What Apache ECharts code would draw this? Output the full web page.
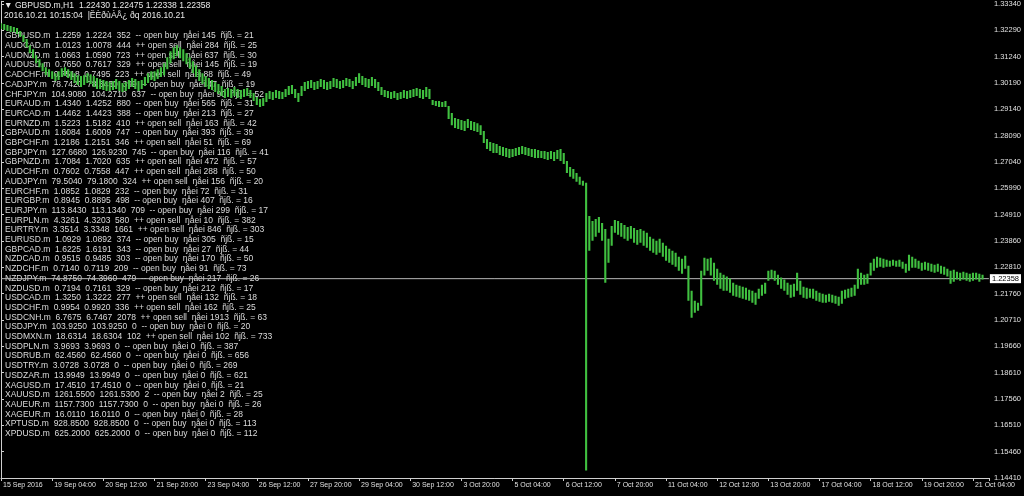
<!DOCTYPE html>
<html><head><meta charset="utf-8">
<script src="https://cdn.jsdelivr.net/npm/echarts@6/dist/echarts.min.js"></script>
<style>html,body{margin:0;padding:0;background:#000;overflow:hidden}#c{width:1024px;height:496px}</style>
</head><body><div id="c"></div>
<script>
// x-axis tick labels (every 16 two-hour bars = 32 h)
const xLabels = ['15 Sep 2016','19 Sep 04:00','20 Sep 12:00','21 Sep 20:00','23 Sep 04:00','26 Sep 12:00','27 Sep 20:00','29 Sep 04:00','30 Sep 12:00','3 Oct 20:00','5 Oct 04:00','6 Oct 12:00','7 Oct 20:00','11 Oct 04:00','12 Oct 12:00','13 Oct 20:00','17 Oct 04:00','18 Oct 12:00','19 Oct 20:00','21 Oct 04:00'];
// y-axis tick labels (bottom to top)
const yLabels = ['1.14410','1.15460','1.16510','1.17560','1.18610','1.19660','1.20710','1.21760','1.22810','1.23860','1.24910','1.25990','1.27040','1.28090','1.29140','1.30190','1.31240','1.32290','1.33340'];
const lastPrice = 1.22358;
// bar highs / lows (GBPUSD, one value per 2 hours, starting 15 Sep 20:00)
const highs = [
1.3254,1.3251,1.3247,1.3243,1.3239,1.3235,1.3223,1.3207,1.3191,1.3167,1.3151,1.3127,1.3111,1.3095,1.3079,1.3071,
1.3063,1.3055,1.3063,1.3075,1.3079,1.3071,1.3063,1.3055,1.3047,1.3044,1.3047,1.3055,1.3051,1.3044,1.3036,1.3032,
1.3028,1.3024,1.3020,1.3024,1.3032,1.3024,1.3016,1.3020,1.3028,1.3036,1.3032,1.3024,1.3028,1.3040,1.3055,1.3063,
1.3063,1.3071,1.3079,1.3095,1.3119,1.3143,1.3159,1.3167,1.3159,1.3151,1.3135,1.3119,1.3103,1.3087,1.3071,1.3055,
1.3044,1.3036,1.3028,1.3020,1.3012,1.3004,1.2992,1.2996,1.2992,1.3000,1.2992,1.2988,1.2992,1.2996,1.2988,1.2976,
1.2960,1.2952,1.2956,1.2976,1.2984,1.2980,1.2988,1.2984,1.2980,1.2992,1.3004,1.3008,1.2992,1.2976,1.3004,1.3020,
1.3024,1.3028,1.3020,1.3024,1.3032,1.3028,1.3020,1.3024,1.3036,1.3032,1.3024,1.3028,1.3036,1.3032,1.3024,1.3040,
1.3055,1.3044,1.3036,1.3032,1.3040,1.3032,1.3020,1.3000,1.2988,1.2984,1.2980,1.2984,1.2976,1.2980,1.2988,1.2984,
1.2988,1.2992,1.2996,1.2992,1.2988,1.3000,1.2992,1.2948,1.2944,1.2944,1.2940,1.2944,1.2924,1.2896,1.2876,1.2872,
1.2868,1.2864,1.2872,1.2864,1.2860,1.2856,1.2848,1.2825,1.2793,1.2781,1.2777,1.2773,1.2765,1.2761,1.2757,1.2753,
1.2753,1.2757,1.2761,1.2765,1.2761,1.2757,1.2753,1.2753,1.2749,1.2745,1.2745,1.2741,1.2745,1.2741,1.2749,1.2753,
1.2737,1.2705,1.2681,1.2673,1.2657,1.2642,1.2626,1.2618,1.2486,1.2466,1.2474,1.2482,1.2458,1.2434,1.2395,1.2446,
1.2470,1.2466,1.2458,1.2450,1.2442,1.2446,1.2438,1.2430,1.2434,1.2427,1.2419,1.2403,1.2395,1.2387,1.2395,1.2379,
1.2367,1.2355,1.2347,1.2339,1.2323,1.2315,1.2327,1.2287,1.2188,1.2148,1.2140,1.2267,1.2319,1.2315,1.2319,1.2299,
1.2275,1.2259,1.2251,1.2244,1.2236,1.2220,1.2212,1.2208,1.2204,1.2200,1.2192,1.2188,1.2180,1.2196,1.2212,1.2220,
1.2267,1.2271,1.2267,1.2251,1.2240,1.2232,1.2220,1.2212,1.2216,1.2259,1.2228,1.2204,1.2200,1.2196,1.2196,1.2188,
1.2180,1.2176,1.2172,1.2176,1.2172,1.2168,1.2164,1.2188,1.2192,1.2196,1.2200,1.2212,1.2275,1.2259,1.2251,1.2255,
1.2299,1.2315,1.2323,1.2319,1.2315,1.2311,1.2307,1.2311,1.2307,1.2311,1.2303,1.2295,1.2331,1.2323,1.2315,1.2307,
1.2299,1.2303,1.2299,1.2295,1.2291,1.2295,1.2287,1.2283,1.2275,1.2267,1.2271,1.2263,1.2259,1.2263,1.2259,1.2255,
1.2259,1.2259,1.2255,1.2251];
const lows = [
1.3231,1.3227,1.3223,1.3219,1.3219,1.3211,1.3199,1.3179,1.3159,1.3135,1.3115,1.3095,1.3079,1.3063,1.3047,1.3040,
1.3032,1.3024,1.3028,1.3040,1.3044,1.3036,1.3028,1.3016,1.3008,1.3000,1.3008,1.3016,1.3012,1.3000,1.2992,1.2992,
1.2988,1.2984,1.2984,1.2988,1.2992,1.2984,1.2980,1.2984,1.2992,1.3000,1.2992,1.2984,1.2992,1.3004,1.3016,1.3028,
1.3024,1.3032,1.3040,1.3047,1.3071,1.3095,1.3111,1.3123,1.3115,1.3103,1.3091,1.3075,1.3055,1.3040,1.3024,1.3012,
1.3000,1.2992,1.2988,1.2980,1.2972,1.2964,1.2956,1.2960,1.2956,1.2964,1.2956,1.2952,1.2960,1.2964,1.2956,1.2944,
1.2928,1.2920,1.2924,1.2940,1.2952,1.2948,1.2956,1.2952,1.2952,1.2960,1.2968,1.2972,1.2956,1.2940,1.2964,1.2984,
1.2992,1.2996,1.2988,1.2992,1.3000,1.2992,1.2988,1.2992,1.3000,1.2996,1.2992,1.2996,1.3004,1.3000,1.2992,1.3004,
1.3016,1.3008,1.3000,1.2996,1.3004,1.2996,1.2984,1.2968,1.2960,1.2956,1.2952,1.2956,1.2948,1.2952,1.2956,1.2952,
1.2956,1.2960,1.2964,1.2956,1.2952,1.2960,1.2952,1.2928,1.2924,1.2920,1.2920,1.2920,1.2872,1.2848,1.2837,1.2833,
1.2829,1.2825,1.2837,1.2829,1.2825,1.2821,1.2809,1.2777,1.2753,1.2745,1.2737,1.2737,1.2729,1.2725,1.2721,1.2717,
1.2721,1.2725,1.2729,1.2733,1.2729,1.2725,1.2721,1.2717,1.2717,1.2717,1.2713,1.2709,1.2713,1.2705,1.2713,1.2705,
1.2693,1.2657,1.2642,1.2634,1.2622,1.2610,1.2606,1.1471,1.2347,1.2387,1.2403,1.2419,1.2387,1.2220,1.2299,1.2367,
1.2419,1.2411,1.2403,1.2395,1.2387,1.2395,1.2379,1.2371,1.2379,1.2367,1.2359,1.2347,1.2339,1.2331,1.2339,1.2323,
1.2307,1.2299,1.2291,1.2283,1.2267,1.2255,1.2275,1.2148,1.2080,1.2100,1.2108,1.2128,1.2248,1.2267,1.2248,1.2228,
1.2212,1.2196,1.2188,1.2188,1.2180,1.2168,1.2164,1.2160,1.2156,1.2152,1.2148,1.2140,1.2132,1.2156,1.2168,1.2176,
1.2228,1.2236,1.2228,1.2212,1.2196,1.2188,1.2172,1.2160,1.2164,1.2188,1.2172,1.2160,1.2156,1.2160,1.2156,1.2148,
1.2144,1.2140,1.2140,1.2144,1.2140,1.2136,1.2128,1.2136,1.2156,1.2160,1.2164,1.2168,1.2196,1.2212,1.2212,1.2216,
1.2248,1.2267,1.2279,1.2283,1.2279,1.2283,1.2283,1.2287,1.2283,1.2283,1.2275,1.2259,1.2267,1.2279,1.2279,1.2275,
1.2267,1.2271,1.2267,1.2263,1.2259,1.2263,1.2255,1.2251,1.2244,1.2216,1.2224,1.2232,1.2228,1.2232,1.2228,1.2224,
1.2228,1.2232,1.2224,1.2232];
// header + comment lines
const header1 = '\u25BC GBPUSD.m,H1  1.22430 1.22475 1.22338 1.22358';
const header2 = '2016.10.21 10:15:04  |ȄÈðùÀÅ¿ ðq 2016.10.21';
const rows = [
'GBPUSD.m  1.2259  1.2224  352  -- open buy  ŋåei 145  ñjß. = 21',
'AUDCAD.m  1.0123  1.0078  444  ++ open sell  ŋåei 284  ñjß. = 25',
'AUDNZD.m  1.0663  1.0590  723  ++ open sell  ŋåei 637  ñjß. = 30',
'AUDUSD.m  0.7650  0.7617  329  ++ open sell  ŋåei 145  ñjß. = 19',
'CADCHF.m  0.7518  0.7495  223  ++ open sell  ŋåei 88  ñjß. = 49',
'CADJPY.m  78.7420  78.3430  399  -- open buy  ŋåei 47  ñjß. = 19',
'CHFJPY.m  104.9080  104.2710  637  -- open buy  ŋåei 90  ñjß. = 52',
'EURAUD.m  1.4340  1.4252  880  -- open buy  ŋåei 565  ñjß. = 31',
'EURCAD.m  1.4462  1.4423  388  -- open buy  ŋåei 213  ñjß. = 27',
'EURNZD.m  1.5223  1.5182  410  ++ open sell  ŋåei 163  ñjß. = 42',
'GBPAUD.m  1.6084  1.6009  747  -- open buy  ŋåei 393  ñjß. = 39',
'GBPCHF.m  1.2186  1.2151  346  ++ open sell  ŋåei 51  ñjß. = 69',
'GBPJPY.m  127.6680  126.9230  745  -- open buy  ŋåei 116  ñjß. = 41',
'GBPNZD.m  1.7084  1.7020  635  ++ open sell  ŋåei 472  ñjß. = 57',
'AUDCHF.m  0.7602  0.7558  447  ++ open sell  ŋåei 288  ñjß. = 50',
'AUDJPY.m  79.5040  79.1800  324  ++ open sell  ŋåei 156  ñjß. = 20',
'EURCHF.m  1.0852  1.0829  232  -- open buy  ŋåei 72  ñjß. = 31',
'EURGBP.m  0.8945  0.8895  498  -- open buy  ŋåei 407  ñjß. = 16',
'EURJPY.m  113.8430  113.1340  709  -- open buy  ŋåei 299  ñjß. = 17',
'EURPLN.m  4.3261  4.3203  580  ++ open sell  ŋåei 10  ñjß. = 382',
'EURTRY.m  3.3514  3.3348  1661  ++ open sell  ŋåei 846  ñjß. = 303',
'EURUSD.m  1.0929  1.0892  374  -- open buy  ŋåei 305  ñjß. = 15',
'GBPCAD.m  1.6225  1.6191  343  -- open buy  ŋåei 27  ñjß. = 44',
'NZDCAD.m  0.9515  0.9485  303  -- open buy  ŋåei 170  ñjß. = 50',
'NZDCHF.m  0.7140  0.7119  209  -- open buy  ŋåei 91  ñjß. = 73',
'NZDJPY.m  74.8750  74.3960  479  -- open buy  ŋåei 217  ñjß. = 26',
'NZDUSD.m  0.7194  0.7161  329  -- open buy  ŋåei 212  ñjß. = 17',
'USDCAD.m  1.3250  1.3222  277  ++ open sell  ŋåei 132  ñjß. = 18',
'USDCHF.m  0.9954  0.9920  336  ++ open sell  ŋåei 162  ñjß. = 25',
'USDCNH.m  6.7675  6.7467  2078  ++ open sell  ŋåei 1913  ñjß. = 63',
'USDJPY.m  103.9250  103.9250  0  -- open buy  ŋåei 0  ñjß. = 20',
'USDMXN.m  18.6314  18.6304  102  ++ open sell  ŋåei 102  ñjß. = 733',
'USDPLN.m  3.9693  3.9693  0  -- open buy  ŋåei 0  ñjß. = 387',
'USDRUB.m  62.4560  62.4560  0  -- open buy  ŋåei 0  ñjß. = 656',
'USDTRY.m  3.0728  3.0728  0  -- open buy  ŋåei 0  ñjß. = 269',
'USDZAR.m  13.9949  13.9949  0  -- open buy  ŋåei 0  ñjß. = 621',
'XAGUSD.m  17.4510  17.4510  0  -- open buy  ŋåei 0  ñjß. = 21',
'XAUUSD.m  1261.5500  1261.5300  2  -- open buy  ŋåei 2  ñjß. = 25',
'XAUEUR.m  1157.7300  1157.7300  0  -- open buy  ŋåei 0  ñjß. = 26',
'XAGEUR.m  16.0110  16.0110  0  -- open buy  ŋåei 0  ñjß. = 28',
'XPTUSD.m  928.8500  928.8500  0  -- open buy  ŋåei 0  ñjß. = 113',
'XPDUSD.m  625.2000  625.2000  0  -- open buy  ŋåei 0  ñjß. = 112'];

const Y_MIN = 1.1441, Y_STEP = 0.0105, X_STEP = 16, X_MAX = 309;
const FONT = '"Liberation Sans", Arial, sans-serif';
const chart = echarts.init(document.getElementById('c'), null, {renderer: 'canvas'});
const data = highs.map((h, i) => [i, lows[i], h]);

const texts = [];
texts.push({type:'text', left: 4, top: 1, style:{text: header1, fill:'#e8e8e8', font: '8.6px ' + FONT}});
texts.push({type:'text', left: 4, top: 11.5, style:{text: header2, fill:'#e8e8e8', font: '8.6px ' + FONT}});
rows.forEach((r, k) => {
  texts.push({type:'text', left: 5, top: 31.5 + k * 9.7, style:{text: r, fill:'#dcdcdc', font: '8.5px ' + FONT}});
});

chart.setOption({
  backgroundColor: '#000',
  animation: false,
  grid: {left: 1, right: 33, top: 0, bottom: 18},
  xAxis: {
    type: 'value', min: 0, max: X_MAX, interval: X_STEP,
    axisLine: {show: true, lineStyle: {color: '#cfcfcf', width: 1}},
    axisTick: {show: true, length: 3, lineStyle: {color: '#cfcfcf'}},
    splitLine: {show: false},
    axisLabel: {
      color: '#e0e0e0', fontSize: 7, fontFamily: FONT, align: 'left', margin: 4, padding: [0,0,0,2],
      formatter: v => { const k = v / X_STEP; return Number.isInteger(k) && xLabels[k] ? xLabels[k] : ''; }
    }
  },
  yAxis: {
    type: 'value', position: 'right', min: Y_MIN, max: 1.3342, interval: Y_STEP, scale: true,
    axisLine: {show: true, lineStyle: {color: '#cfcfcf', width: 1}},
    axisTick: {show: true, length: 3, lineStyle: {color: '#cfcfcf'}},
    splitLine: {show: false},
    axisLabel: {
      color: '#e0e0e0', fontSize: 7.5, fontFamily: FONT, margin: 5,
      formatter: v => { const k = Math.round((v - Y_MIN) / Y_STEP); return Math.abs(v - (Y_MIN + k * Y_STEP)) < 1e-6 && yLabels[k] ? yLabels[k] : ''; }
    }
  },
  graphic: texts,
  series: [{
    type: 'line',
    data: [[0, lastPrice], [X_MAX, lastPrice]],
    symbol: 'none', silent: true, z: 1,
    lineStyle: {color: '#b8b8b8', width: 1},
    endLabel: {show: true, distance: 1, formatter: () => lastPrice.toFixed(5),
               backgroundColor: '#ffffff', color: '#000', fontSize: 7.5, fontFamily: FONT, padding: [1, 2, 0, 2]}
  }, {
    type: 'custom',
    data: data,
    encode: {x: 0, y: [1, 2]},
    clip: true, z: 2,
    renderItem: (params, api) => {
      const i = api.value(0);
      const lo = api.coord([i, api.value(1)]);
      const hi = api.coord([i, api.value(2)]);
      return {type: 'rect', shape: {x: lo[0] - 1, y: hi[1], width: 2.1, height: Math.max(1, lo[1] - hi[1])},
              style: {fill: '#40c040'}};
    }
  }]
});
</script></body></html>
